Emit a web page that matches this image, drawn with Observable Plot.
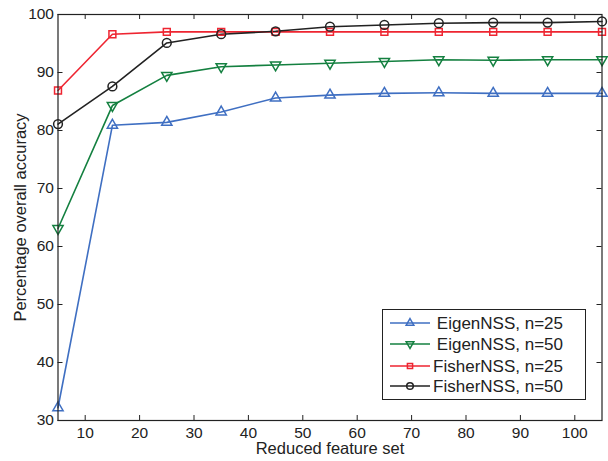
<!DOCTYPE html>
<html>
<head>
<meta charset="utf-8">
<script src="https://cdn.jsdelivr.net/npm/d3@7"></script>
<script src="https://cdn.jsdelivr.net/npm/@observablehq/plot@0.6"></script>
<style>
  body { margin: 0; background: #fff; }
  #wrap { position: relative; width: 608px; height: 461px; font-family: "Liberation Sans", Arial, Helvetica, sans-serif; }
  #legend { position: absolute; left: 382px; top: 309px; width: 202px; height: 89px; border: 1px solid #222; background: #fff; }
  #legend .row { position: absolute; left: 0; width: 202px; height: 20px; }
  #legend svg { position: absolute; left: 7px; top: 0; }
  #legend span { position: absolute; right: 22px; top: 0px; font-size: 17px; color: #222; line-height: 19px; white-space: nowrap; }
</style>
</head>
<body>
<div id="wrap"><div id="chart"></div><div id="legend"></div></div>
<script>
const featureSet = [5, 15, 25, 35, 45, 55, 65, 75, 85, 95, 105];
const eigen25  = [32.2, 80.9, 81.4, 83.2, 85.6, 86.1, 86.4, 86.5, 86.4, 86.4, 86.4];
const eigen50  = [63.1, 84.3, 89.5, 91.0, 91.3, 91.6, 91.9, 92.2, 92.1, 92.2, 92.2];
const fisher25 = [86.9, 96.6, 97.0, 97.0, 97.0, 97.0, 97.0, 97.0, 97.0, 97.0, 97.0];
const fisher50 = [81.1, 87.6, 95.1, 96.6, 97.1, 97.9, 98.2, 98.5, 98.6, 98.6, 98.8];
const xTicks = [10, 20, 30, 40, 50, 60, 70, 80, 90, 100];
const yTicks = [30, 40, 50, 60, 70, 80, 90, 100];
const seriesNames = ["EigenNSS, n=25", "EigenNSS, n=50", "FisherNSS, n=25", "FisherNSS, n=50"];
const seriesColors = ["#3f6fc2", "#148040", "#ee2531", "#222222"];

const series = [eigen25, eigen50, fisher25, fisher50];
const symbols = [
  {symbol: "triangle", r: 3.8, rotate: 0},
  {symbol: "triangle", r: 3.8, rotate: 180},
  {symbol: "square", r: 3.9, rotate: 0},
  {symbol: "circle", r: 4.4, rotate: 0}
];
const rows = series.map(vals => featureSet.map((x, i) => ({x, y: vals[i]})));

const marks = [];
rows.forEach((data, k) => {
  marks.push(Plot.line(data, {x: "x", y: "y", stroke: seriesColors[k], strokeWidth: 1.6}));
});
rows.forEach((data, k) => {
  marks.push(Plot.dot(data, {x: "x", y: "y", stroke: seriesColors[k], fill: "none", strokeWidth: 1.5, symbol: symbols[k].symbol, r: symbols[k].r, rotate: symbols[k].rotate}));
});
// inward ticks on all four sides
marks.push(Plot.ruleX(xTicks, {x: d => d, y1: 30, y2: 30, insetTop: -5, stroke: "#222"}));
marks.push(Plot.ruleX(xTicks, {x: d => d, y1: 100, y2: 100, insetBottom: -5, stroke: "#222"}));
marks.push(Plot.ruleY(yTicks, {y: d => d, x1: 5, x2: 5, insetRight: -5, stroke: "#222"}));
marks.push(Plot.ruleY(yTicks, {y: d => d, x1: 105, x2: 105, insetLeft: -5, stroke: "#222"}));
marks.push(Plot.frame({stroke: "#222", strokeWidth: 1.2}));
marks.push(Plot.axisX(xTicks, {tickSize: 0, tickPadding: 6, label: null, fontSize: 15.5, fill: "#222"}));
marks.push(Plot.axisY(yTicks, {tickSize: 0, tickPadding: 4, label: null, fontSize: 15.5, fill: "#222"}));
marks.push(Plot.text(["Reduced feature set"], {frameAnchor: "bottom", lineAnchor: "middle", dy: 28, fontSize: 16.5, fill: "#222"}));
marks.push(Plot.text(["Percentage overall accuracy"], {frameAnchor: "left", textAnchor: "middle", lineAnchor: "middle", dx: -37, rotate: -90, fontSize: 16.5, fill: "#222"}));

const chart = Plot.plot({
  width: 608,
  height: 461,
  marginLeft: 57.5,
  marginRight: 6.5,
  marginTop: 14,
  marginBottom: 41,
  style: {fontFamily: '"Liberation Sans", Arial, Helvetica, sans-serif', background: "#fff", overflow: "visible"},
  x: {domain: [5, 105]},
  y: {domain: [30, 100]},
  marks
});
document.getElementById("chart").appendChild(chart);

// legend
const legend = document.getElementById("legend");
const rowTops = [4, 25, 47, 67];
seriesNames.forEach((name, k) => {
  const row = document.createElement("div");
  row.className = "row";
  row.style.top = rowTops[k] + "px";
  const svg = d3.create("svg").attr("width", 42).attr("height", 20);
  svg.append("line").attr("x1", 0).attr("x2", 40).attr("y1", 9).attr("y2", 9)
    .attr("stroke", seriesColors[k]).attr("stroke-width", 1.6);
  const s = symbols[k];
  const sym = {triangle: d3.symbolTriangle, square: d3.symbolSquare, circle: d3.symbolCircle}[s.symbol];
  svg.append("path").attr("d", d3.symbol(sym, Math.PI * (s.r * 0.75) ** 2)())
    .attr("transform", `translate(20,9) rotate(${s.rotate})`)
    .attr("fill", "none").attr("stroke", seriesColors[k]).attr("stroke-width", 1.5);
  row.appendChild(svg.node());
  const span = document.createElement("span");
  span.textContent = name;
  row.appendChild(span);
  legend.appendChild(row);
});
</script>
</body>
</html>
